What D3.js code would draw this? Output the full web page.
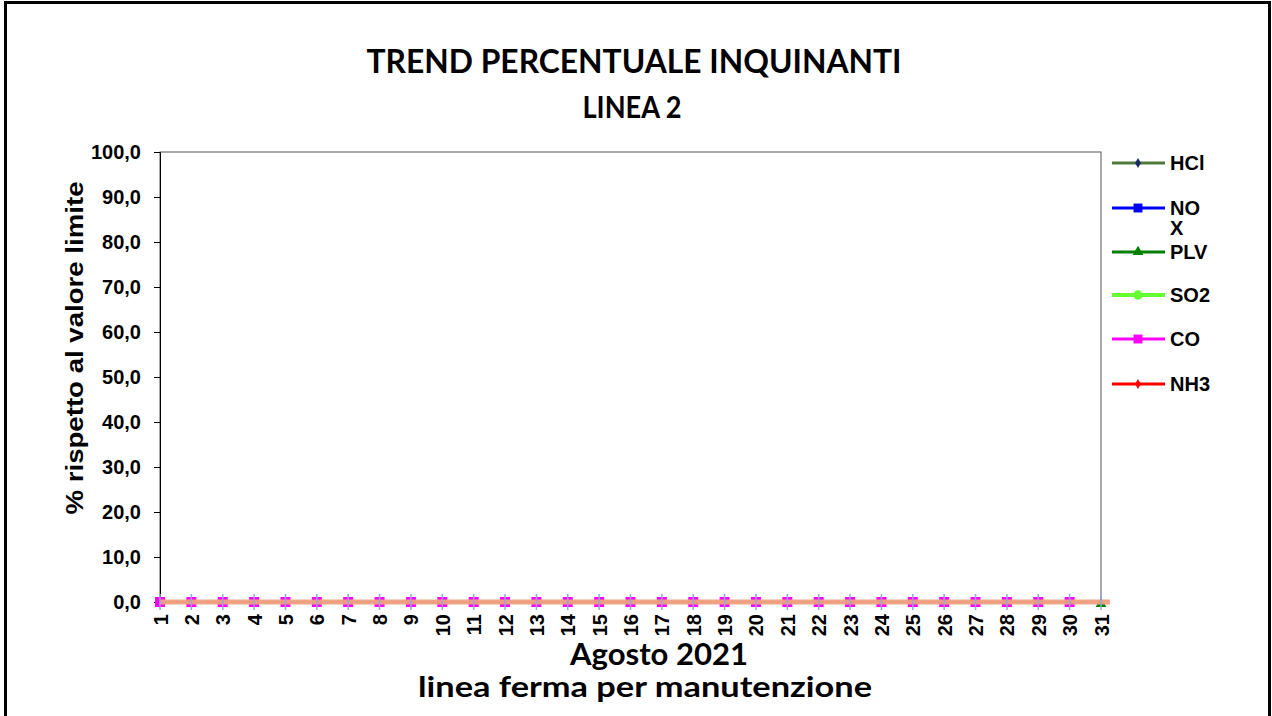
<!DOCTYPE html>
<html>
<head>
<meta charset="utf-8">
<script src="https://cdn.jsdelivr.net/npm/d3@7"></script>
<style>
  body { margin: 0; background: #fff; }
  svg { display: block; }
</style>
</head>
<body>
<svg id="chart" width="1272" height="716"></svg>
<script>
// dati: agosto 2021, linea ferma per manutenzione -> tutto a zero
const days = [1,2,3,4,5,6,7,8,9,10,11,12,13,14,15,16,17,18,19,20,21,22,23,24,25,26,27,28,29,30,31];
const yTicks = [0,10,20,30,40,50,60,70,80,90,100];
const limitLine = [0,0,0,0,0,0,0,0,0,0,0,0,0,0,0,0,0,0,0,0,0,0,0,0,0,0,0,0,0,0,0];
const hclValues = [0,0,0,0,0,0,0,0,0,0,0,0,0,0,0,0,0,0,0,0,0,0,0,0,0,0,0,0,0,0,0];
const coValues  = [0,0,0,0,0,0,0,0,0,0,0,0,0,0,0,0,0,0,0,0,0,0,0,0,0,0,0,0,0,0,null];
const plvValues = [null,null,null,null,null,null,null,null,null,null,null,null,null,null,null,null,null,null,null,null,null,null,null,null,null,null,null,null,null,null,0];
const legendNames = ["HCl", "NO X", "PLV", "SO2", "CO", "NH3"];
const legendColors = ["#4f7a3a", "#0000ff", "#008000", "#66ff33", "#ff00ff", "#ff0000"];
const legendSymbols = ["diamond", "square", "triangle", "circle", "square", "diamond"];

const svg = d3.select("#chart");
const arial = "'Liberation Sans', Arial, sans-serif";
const calibri = "Lato, 'Open Sans', sans-serif";

// cornice esterna
svg.append("rect")
  .attr("x", 5.5).attr("y", 2.5)
  .attr("width", 1264).attr("height", 720)
  .attr("fill", "none").attr("stroke", "#000").attr("stroke-width", 3);

const mLeft = 160, mTop = 152, mRight = 1101, mBottom = 602;

const x = d3.scalePoint().domain(days).range([mLeft, mRight]);
const y = d3.scaleLinear().domain([0, 100]).range([mBottom, mTop]);

// bordo area grafico
svg.append("rect")
  .attr("x", mLeft).attr("y", mTop)
  .attr("width", mRight - mLeft).attr("height", mBottom - mTop)
  .attr("fill", "none").attr("stroke", "#555").attr("stroke-width", 1);

const fmt = d => d3.format(".1f")(d).replace(".", ",");

const yAxis = svg.append("g")
  .attr("transform", `translate(${mLeft},0)`)
  .call(d3.axisLeft(y).tickValues(yTicks).tickFormat(fmt).tickSize(6).tickPadding(13));
yAxis.select(".domain").attr("stroke", "#000");
yAxis.selectAll("text")
  .attr("font-family", arial)
  .attr("font-weight", "bold").attr("font-size", 20).attr("fill", "#000");

const xAxis = svg.append("g")
  .attr("transform", `translate(0,${mBottom})`)
  .call(d3.axisBottom(x).tickSize(0).tickPadding(0));
xAxis.select(".domain").remove();
xAxis.selectAll("text")
  .attr("font-family", arial)
  .attr("font-weight", "bold").attr("font-size", 20).attr("fill", "#000")
  .attr("text-anchor", "end")
  .attr("y", 0)
  .attr("dy", "0.35em")
  .attr("transform", "translate(0,12) rotate(-90)");

// marcatori CO
svg.append("g").selectAll("rect")
  .data(days.filter((d, i) => coValues[i] !== null))
  .join("rect")
  .attr("x", d => x(d) - 5).attr("y", d => y(coValues[d - 1]) - 5)
  .attr("width", 10).attr("height", 10)
  .attr("fill", "#ff00ff");

// marcatore PLV
svg.append("g").selectAll("path")
  .data(days.filter((d, i) => plvValues[i] !== null))
  .join("path")
  .attr("d", d3.symbol(d3.symbolTriangle, 50))
  .attr("transform", d => `translate(${x(d)},${y(plvValues[d - 1]) + 2})`)
  .attr("fill", "#008000");

// linea salmone a zero
const line = d3.line().x(d => x(d)).y(d => y(limitLine[d - 1]));
svg.append("path")
  .attr("d", line(days) + `h9`)
  .attr("fill", "none")
  .attr("stroke", "#f0a080").attr("stroke-width", 5).attr("stroke-opacity", 0.95);

// crocette celesti
svg.append("g").selectAll("line")
  .data(days)
  .join("line")
  .attr("x1", d => x(d)).attr("x2", d => x(d))
  .attr("y1", d => y(hclValues[d - 1]) - 8).attr("y2", d => y(hclValues[d - 1]) + 8)
  .attr("stroke", "#8fa8dc").attr("stroke-width", 1.5);

// legenda
const legendY = [163, 208, 252, 295, 339, 384];
const lg = svg.append("g");
legendNames.forEach((name, i) => {
  const g = lg.append("g").attr("transform", `translate(0,${legendY[i]})`);
  g.append("line").attr("x1", 1112).attr("x2", 1165)
    .attr("stroke", legendColors[i]).attr("stroke-width", i === 3 ? 4 : 3);
  const sym = legendSymbols[i];
  const s = sym === "square" ? d3.symbolSquare : sym === "triangle" ? d3.symbolTriangle
          : sym === "circle" ? d3.symbolCircle : d3.symbolDiamond;
  const size = sym === "square" ? 80 : sym === "circle" ? 70 : sym === "triangle" ? 50 : 30;
  g.append("path").attr("d", d3.symbol(s, size))
    .attr("transform", "translate(1138,0)")
    .attr("fill", i === 0 ? "#1a2a6c" : legendColors[i]);
  const t = g.append("text").attr("x", 1170).attr("y", 7)
    .attr("font-family", arial)
    .attr("font-weight", "bold").attr("font-size", 20);
  const parts = name.split(" ");
  parts.forEach((p, j) => t.append("tspan").attr("x", 1170).attr("dy", j === 0 ? 0 : 20).text(p));
});

// titoli
svg.append("text").attr("x", 634).attr("y", 73).attr("text-anchor", "middle")
  .attr("font-family", calibri).attr("font-weight", "bold").attr("font-size", 32)
  .attr("textLength", 535).attr("lengthAdjust", "spacingAndGlyphs")
  .text("TREND PERCENTUALE INQUINANTI");
svg.append("text").attr("x", 632).attr("y", 118).attr("text-anchor", "middle")
  .attr("font-family", calibri).attr("font-weight", "bold").attr("font-size", 30)
  .attr("textLength", 99).attr("lengthAdjust", "spacingAndGlyphs")
  .text("LINEA 2");

svg.append("text").attr("x", 659).attr("y", 665).attr("text-anchor", "middle")
  .attr("font-family", calibri).attr("font-weight", "bold").attr("font-size", 30)
  .attr("textLength", 178).attr("lengthAdjust", "spacingAndGlyphs")
  .text("Agosto 2021");
svg.append("text").attr("x", 645).attr("y", 697).attr("text-anchor", "middle")
  .attr("font-family", calibri).attr("font-weight", "bold").attr("font-size", 29)
  .attr("textLength", 454).attr("lengthAdjust", "spacingAndGlyphs")
  .text("linea ferma per manutenzione");

svg.append("text")
  .attr("transform", "translate(83,348) rotate(-90)")
  .attr("text-anchor", "middle")
  .attr("font-family", arial)
  .attr("font-weight", "bold").attr("font-size", 24)
  .attr("textLength", 333).attr("lengthAdjust", "spacingAndGlyphs")
  .text("% rispetto al valore limite");
</script>
</body>
</html>
